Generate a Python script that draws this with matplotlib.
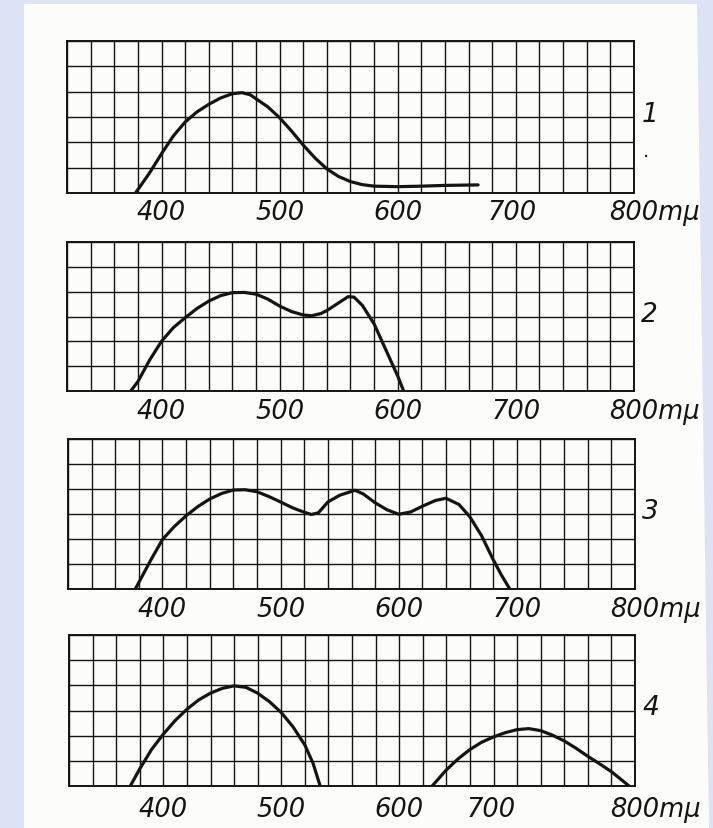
import matplotlib

matplotlib.use('Agg')
import numpy as np
import matplotlib.pyplot as plt
from matplotlib.patches import Polygon
from matplotlib.transforms import ScaledTranslation

# curves: wavelength (m mu) vs. response in grid rows
c1_x = [378, 390, 400, 410, 420, 430, 440, 450, 460, 468, 475, 480, 490, 500,
        510, 520, 530, 540, 550, 560, 570, 580, 600, 620, 640, 668]
c1_y = [0.0, 0.8, 1.55, 2.25, 2.8, 3.2, 3.5, 3.75, 3.92, 3.96, 3.88, 3.72, 3.4, 2.97,
        2.45, 1.89, 1.38, 0.95, 0.65, 0.45, 0.33, 0.27, 0.25, 0.27, 0.3, 0.32]

c2_x = [374, 380, 390, 400, 410, 420, 430, 440, 450, 460, 470, 480, 490, 500,
        510, 520, 527, 535, 540, 550, 558, 563, 570, 580, 590, 600, 605]
c2_y = [0.0, 0.38, 1.25, 2.0, 2.55, 2.95, 3.32, 3.62, 3.84, 3.96, 3.97, 3.9, 3.7, 3.42,
        3.2, 3.06, 3.03, 3.12, 3.24, 3.55, 3.8, 3.78, 3.45, 2.7, 1.65, 0.6, 0.0]

c3_x = [377, 390, 400, 410, 420, 430, 440, 450, 460, 470, 480, 490, 500, 510,
        520, 526, 532, 540, 550, 563, 570, 580, 590, 600, 610, 620, 631, 640,
        651, 660, 670, 680, 687, 694]
c3_y = [0.0, 1.15, 1.98, 2.5, 2.93, 3.3, 3.6, 3.82, 3.96, 3.97, 3.89, 3.7, 3.48, 3.25,
        3.07, 2.98, 3.05, 3.48, 3.75, 3.95, 3.8, 3.45, 3.17, 2.99, 3.08, 3.31, 3.54, 3.63,
        3.38, 2.9, 2.14, 1.17, 0.55, 0.0]

c4a_x = [372, 380, 390, 400, 410, 420, 430, 440, 450, 460, 470, 480, 490, 500,
         510, 520, 527, 533]
c4a_y = [0.0, 0.68, 1.45, 2.06, 2.6, 3.05, 3.42, 3.69, 3.88, 3.98, 3.92, 3.69, 3.35, 2.92,
         2.35, 1.63, 0.9, 0.0]

c4b_x = [628, 640, 650, 660, 670, 680, 690, 700, 710, 720, 730, 740, 750, 760,
         770, 780, 795]
c4b_y = [0.0, 0.64, 1.08, 1.45, 1.74, 1.95, 2.12, 2.24, 2.28, 2.2, 2.02, 1.79, 1.5, 1.18,
         0.88, 0.57, 0.0]

tick_text = ['400', '500', '600', '700', '800mμ']
# where the hand lettered numbers sit under each grid
tick_pos = [
    [400, 500, 600, 697, 800],
    [400, 500, 600, 700, 800],
    [400, 500, 600, 700, 800],
    [400, 500, 600, 678, 800],
]
panel_names = ['1', '2', '3', '4']
curves = [
    [(c1_x, c1_y)],
    [(c2_x, c2_y)],
    [(c3_x, c3_y)],
    [(c4a_x, c4a_y), (c4b_x, c4b_y)],
]

W, H = 713, 829
# axes boxes in pixels: left, top, right, bottom
boxes = [(67, 42, 634, 194), (67, 243, 634, 392), (68, 440, 635, 590), (69, 636, 635, 787)]
pads = [4.0, 5.0, 5.0, 7.5]

ink = '#141414'

fig = plt.figure(figsize=(W / 100, H / 100), dpi=100)
fig.patch.set_facecolor('#dde2f4')
paper = Polygon([(24 / W, 0), (709 / W, 0), (697 / W, 1 - 5 / H), (24 / W, 1 - 5 / H)],
                closed=True, transform=fig.transFigure, facecolor='#fcfcfb',
                edgecolor='none', zorder=-1)
fig.patches.append(paper)

for idx in range(4):
    l, t, r, b = boxes[idx]
    ax = fig.add_axes([l / W, 1 - b / H, (r - l) / W, (b - t) / H])
    ax.set_facecolor('none')
    ax.set_xlim(320, 800)
    ax.set_ylim(0, 6)

    # graph paper grid (keep minor lines that sit on the labelled ticks)
    ax.xaxis.remove_overlapping_locs = False
    ax.set_xticks(np.arange(320, 801, 20), minor=True)
    ax.set_yticks(np.arange(0, 7, 1), minor=True)
    ax.set_yticks([])
    ax.grid(which='minor', color=ink, linewidth=1.0)
    ax.tick_params(which='both', length=0)
    for sp in ax.spines.values():
        sp.set_linewidth(1.4)
        sp.set_color(ink)

    for xs, ys in curves[idx]:
        ax.plot(xs, ys, color=ink, linewidth=2.3, solid_capstyle='round',
                solid_joinstyle='round', zorder=3)

    ax.set_xticks(tick_pos[idx], tick_text, fontsize=18.5, fontstyle='italic', color=ink)
    ax.tick_params(axis='x', pad=pads[idx])
    lbls = ax.get_xticklabels()
    lbls[-1].set_transform(lbls[-1].get_transform()
                           + ScaledTranslation(0.20, 0, fig.dpi_scale_trans))

    ax.text(1.013, 0.52, panel_names[idx], transform=ax.transAxes, fontsize=19,
            fontstyle='italic', va='center', ha='left', color=ink)
    if idx == 0:
        ax.text(1.016, 0.28, '.', transform=ax.transAxes, fontsize=14,
                va='center', ha='left', color=ink)

plt.savefig('out.png', dpi=100)
